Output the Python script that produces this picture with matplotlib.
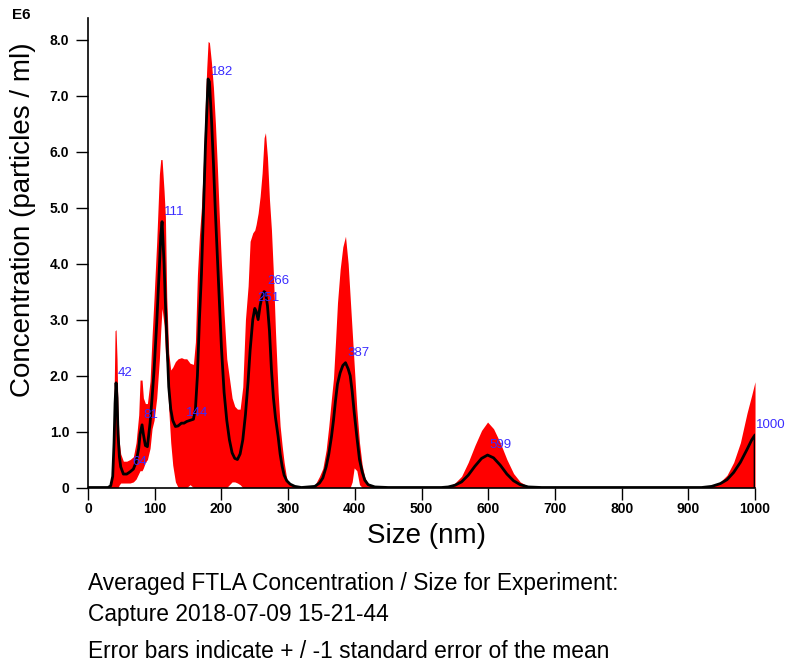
import matplotlib
matplotlib.use("Agg")
import matplotlib.pyplot as plt
import numpy as np

plt.rcParams['font.family'] = ['Liberation Sans', 'DejaVu Sans']

# size bins (nm)
sizes = [0, 30, 34, 37, 39, 40.5, 42, 43.5, 45, 47,
         49, 53, 58, 63, 68, 72, 76, 78, 81, 83,
         86, 89, 93, 96, 99, 103, 107, 109, 111, 114,
         116, 118, 121, 124, 127, 131, 135, 140, 144, 148,
         153, 158, 161, 164, 167, 170, 173, 176, 178, 180,
         182, 185, 188, 191, 194, 197, 200, 204, 208, 212,
         216, 220, 224, 228, 232, 236, 240, 243, 247, 250,
         252, 255, 258, 261, 264, 266, 269, 272, 275, 278,
         281, 285, 288, 291, 294, 298, 303, 310, 320, 340,
         347, 352, 357, 361, 365, 368, 371, 374, 378, 382,
         386, 390, 393, 396, 399, 403, 407, 411, 415, 420,
         430, 450, 530, 540, 550, 560, 570, 580, 590, 599,
         608, 618, 628, 638, 648, 660, 680, 920, 935, 948,
         958, 968, 978, 988, 995, 1000, 1000]

# mean concentration (E6 particles / ml)
conc = [0, 0, 0.03, 0.2, 0.8, 1.5, 1.87, 1.6, 0.95, 0.55,
        0.37, 0.24, 0.24, 0.28, 0.33, 0.45, 0.7, 0.95, 1.12, 0.95,
        0.75, 0.73, 1.15, 1.6, 2.1, 2.94, 3.95, 4.5, 4.75, 4.0,
        3.3, 2.7, 1.8, 1.4, 1.2, 1.09, 1.1, 1.15, 1.15, 1.18,
        1.2, 1.22, 1.4, 2.0, 3.0, 3.8, 4.9, 6.1, 6.7, 7.3,
        7.25, 6.6, 5.8, 4.9, 4.1, 3.3, 2.5, 1.7, 1.2, 0.85,
        0.62, 0.52, 0.5, 0.6, 0.85, 1.3, 1.9, 2.45, 3.0, 3.2,
        3.15, 3.0, 3.25, 3.42, 3.5, 3.48, 3.25, 2.8, 2.1, 1.6,
        1.25, 0.91, 0.6, 0.38, 0.22, 0.12, 0.06, 0.02, 0, 0.02,
        0.08, 0.17, 0.37, 0.6, 0.91, 1.2, 1.55, 1.85, 2.05, 2.18,
        2.23, 2.12, 2.0, 1.72, 1.35, 0.91, 0.5, 0.28, 0.13, 0.05,
        0.01, 0, 0, 0.01, 0.04, 0.1, 0.22, 0.38, 0.52, 0.58,
        0.53, 0.4, 0.24, 0.12, 0.05, 0.01, 0, 0, 0.02, 0.07,
        0.14, 0.27, 0.45, 0.68, 0.85, 0.94, 0]

# extent of the +/- 1 SEM error bars
band_high = [0, 0, 0.05, 0.4, 1.6, 2.8, 2.82, 2.3, 1.3, 0.8,
             0.6, 0.47, 0.47, 0.5, 0.55, 0.8, 1.3, 1.92, 1.92, 1.6,
             1.5, 1.5, 1.9, 2.7, 3.4, 4.4, 5.6, 5.86, 5.86, 5.3,
             4.84, 3.4, 2.4, 2.1, 2.15, 2.25, 2.3, 2.32, 2.3, 2.3,
             2.22, 2.2, 2.6, 3.8, 4.5, 5.0, 5.8, 6.9, 7.5, 7.97,
             7.95, 7.6, 7.15, 6.5, 5.7, 4.8, 4.0, 3.1, 2.3, 1.95,
             1.6, 1.45, 1.4, 1.4, 1.8, 3.0, 3.6, 4.4, 4.55, 4.6,
             4.7, 4.9, 5.2, 5.62, 6.25, 6.34, 5.9, 5.15, 4.6, 3.8,
             2.8, 1.7, 1.1, 0.75, 0.45, 0.15, 0.07, 0.02, 0, 0.04,
             0.2, 0.34, 0.67, 1.1, 1.6, 1.95, 2.6, 3.3, 3.9, 4.3,
             4.49, 4.0, 3.4, 2.8, 2.2, 1.4, 0.8, 0.4, 0.18, 0.06,
             0.01, 0, 0, 0.02, 0.08, 0.2, 0.45, 0.75, 1.02, 1.17,
             1.05, 0.8, 0.5, 0.25, 0.1, 0.02, 0, 0, 0.03, 0.1,
             0.22, 0.45, 0.8, 1.33, 1.65, 1.89, 0]
band_low = [0, 0, 0, 0, 0, 0, 0, 0, 0, 0.05,
            0.08, 0.08, 0.08, 0.08, 0.1, 0.15, 0.25, 0.3, 0.3, 0.35,
            0.45, 0.5, 0.7, 1.05, 1.2, 1.6, 2.3, 2.8, 3.2, 2.9,
            2.4, 2.2, 1.4, 0.8, 0.4, 0.1, 0, 0, 0, 0,
            0.05, 0, 0, 0, 0, 0, 0, 0, 0, 0,
            0, 0, 0, 0, 0, 0, 0, 0, 0, 0.05,
            0.1, 0.1, 0.08, 0.05, 0, 0, 0, 0, 0, 0,
            0, 0, 0, 0, 0, 0, 0, 0, 0, 0,
            0, 0, 0, 0, 0, 0, 0, 0, 0, 0,
            0, 0, 0, 0, 0, 0, 0, 0, 0, 0,
            0, 0, 0, 0.1, 0.35, 0.3, 0.05, 0, 0, 0,
            0, 0, 0, 0, 0, 0, 0, 0, 0, 0,
            0, 0, 0, 0, 0, 0, 0, 0, 0, 0,
            0, 0, 0, 0, 0, 0, 0]

assert len(sizes) == len(conc) == len(band_high) == len(band_low)

peak_sizes = [42, 64, 81, 111, 144, 182, 251, 266, 387, 599, 1000]
peak_conc = [1.87, 0.28, 1.12, 4.75, 1.15, 7.25, 3.2, 3.5, 2.23, 0.58, 0.94]

x_ticks = np.arange(0, 1001, 100)
y_ticks = [0, 1, 2, 3, 4, 5, 6, 7, 8]
y_tick_labels = ['0', '1.0', '2.0', '3.0', '4.0', '5.0', '6.0', '7.0', '8.0']

caption = ["Averaged FTLA Concentration / Size for Experiment:",
           "Capture 2018-07-09 15-21-44",
           "Error bars indicate + / -1 standard error of the mean"]
caption_y = [0.1195, 0.0727, 0.0172]

fig = plt.figure(figsize=(7.86, 6.63), dpi=100)
ax = fig.add_axes([0.112, 0.2647, 0.8486, 0.7082])

ax.fill_between(sizes, band_low, band_high, color='red', lw=0, zorder=1)
ax.plot(sizes, conc, color='black', lw=2.0, zorder=3, solid_joinstyle='round')

for px, py in zip(peak_sizes, peak_conc):
    ax.annotate(str(px), (px, py), xytext=(1, 3), textcoords='offset points',
                color='#3a2cff', fontsize=9.5, ha='left', va='bottom', zorder=4)

ax.set_xlim(0, 1000)
ax.set_ylim(0, 8.39)
ax.set_xticks(x_ticks)
ax.set_yticks(y_ticks)
ax.set_yticklabels(y_tick_labels)
for lab in ax.get_xticklabels() + ax.get_yticklabels():
    lab.set_fontweight('bold')
    lab.set_fontsize(10)
ax.tick_params(direction='out', length=8.5, width=1.0)
ax.tick_params(axis='x', pad=2)
ax.tick_params(axis='y', pad=5)
ax.spines['top'].set_visible(False)
ax.spines['right'].set_visible(False)
for s in ('left', 'bottom'):
    ax.spines[s].set_linewidth(1.2)

# axis titles
fig.text(0.543, 0.1916, 'Size (nm)', fontsize=20, ha='center', va='center')
fig.text(0.029, 0.668, 'Concentration (particles / ml)', fontsize=20,
         rotation=90, ha='center', va='center')
fig.text(0.015, 0.978, 'E6', fontsize=11, fontweight='bold', ha='left', va='center')

for line, yy in zip(caption, caption_y):
    fig.text(0.112, yy, line, fontsize=16.4, ha='left', va='center')

fig.savefig('out.png', dpi=100)
